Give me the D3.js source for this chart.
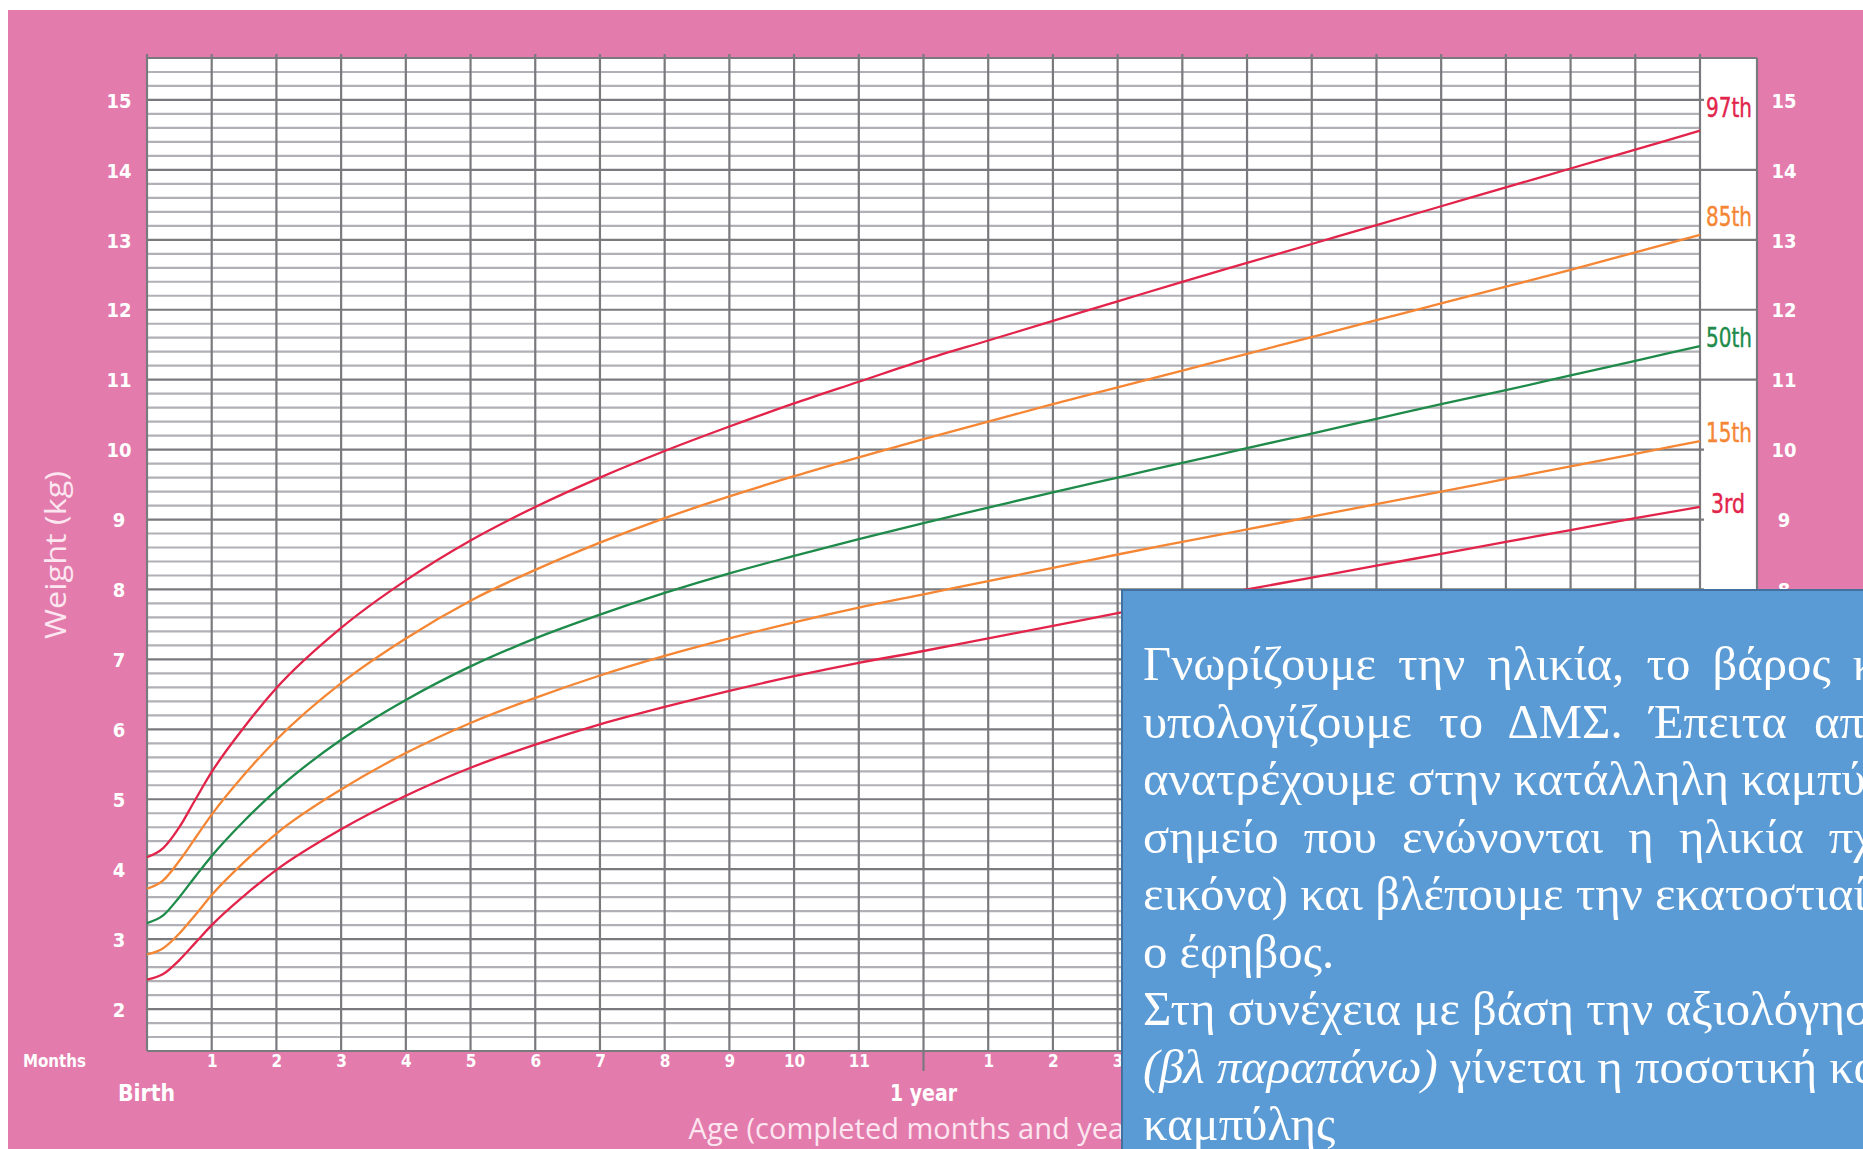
<!DOCTYPE html>
<html>
<head>
<meta charset="utf-8">
<script src="https://cdn.jsdelivr.net/npm/d3@7"></script>
<style>
  html, body { margin: 0; padding: 0; background: #ffffff; }
  svg { display: block; }
</style>
</head>
<body>
<svg id="chart" width="1863" height="1149"></svg>
<script>
// ---------------- DATA ----------------
const ageMonths = [0, 0.25, 0.5, 0.75, 1, 1.5, 2, 3, 4, 5, 6, 7, 8, 9, 10, 11, 12,
  13, 14, 15, 16, 17, 18, 19, 20, 21, 22, 23, 24];
const p3  = [2.42, 2.50, 2.70, 2.95, 3.20, 3.62, 3.99, 4.57, 5.05, 5.45, 5.78, 6.07, 6.32, 6.55, 6.76, 6.95, 7.12,
  7.30, 7.48, 7.66, 7.83, 8.00, 8.17, 8.34, 8.51, 8.68, 8.85, 9.02, 9.18];
const p15 = [2.78, 2.87, 3.08, 3.35, 3.63, 4.10, 4.51, 5.14, 5.66, 6.09, 6.45, 6.77, 7.05, 7.30, 7.53, 7.74, 7.93,
  8.12, 8.31, 8.50, 8.68, 8.86, 9.04, 9.22, 9.40, 9.58, 9.76, 9.94, 10.12];
const p50 = [3.23, 3.34, 3.60, 3.90, 4.19, 4.69, 5.13, 5.85, 6.42, 6.90, 7.30, 7.64, 7.95, 8.23, 8.48, 8.72, 8.95,
  9.17, 9.39, 9.60, 9.81, 10.02, 10.23, 10.44, 10.65, 10.85, 11.06, 11.27, 11.48];
const p85 = [3.72, 3.84, 4.12, 4.45, 4.78, 5.35, 5.85, 6.66, 7.30, 7.84, 8.28, 8.67, 9.02, 9.33, 9.62, 9.89, 10.15,
  10.40, 10.65, 10.89, 11.13, 11.37, 11.61, 11.85, 12.09, 12.33, 12.57, 12.82, 13.07];
const p97 = [4.17, 4.30, 4.60, 5.00, 5.39, 6.03, 6.59, 7.45, 8.13, 8.70, 9.18, 9.60, 9.98, 10.33, 10.66, 10.97, 11.28,
  11.56, 11.84, 12.12, 12.40, 12.67, 12.94, 13.21, 13.48, 13.75, 14.02, 14.29, 14.56];

const seriesNames = ["97th", "85th", "50th", "15th", "3rd"];
const seriesValues = [p97, p85, p50, p15, p3];

const weightTicks = [2, 3, 4, 5, 6, 7, 8, 9, 10, 11, 12, 13, 14, 15];
const monthTicks = [1, 2, 3, 4, 5, 6, 7, 8, 9, 10, 11, 13, 14, 15, 16, 17, 18, 19, 20, 21, 22, 23];
const monthTickLabels = ["1", "2", "3", "4", "5", "6", "7", "8", "9", "10", "11",
  "1", "2", "3", "4", "5", "6", "7", "8", "9", "10", "11"];
const yearTicks = [0, 12, 24];
const yearLabels = ["Birth", "1 year", "2 years"];

const boxLines = [
  "Γνωρίζουμε την ηλικία, το βάρος και",
  "υπολογίζουμε το ΔΜΣ. Έπειτα από",
  "ανατρέχουμε στην κατάλληλη καμπύλη",
  "σημείο που ενώνονται η ηλικία πχ",
  "εικόνα) και βλέπουμε την εκατοστιαία",
  "ο έφηβος.",
  "Στη συνέχεια με βάση την αξιολόγηση",
  "(βλ παραπάνω)| γίνεται η ποσοτική και",
  "καμπύλης"
];

// ---------------- STYLE / LAYOUT ----------------
const W = 1863, H = 1149;
const pink = "#E37BAD";
const lineColors = { "97th": "#E2244B", "85th": "#F58634", "50th": "#1E8B4A", "15th": "#F58634", "3rd": "#E2244B" };
const labelStyle = {
  "97th": { dy: -14, dx: 6, len: 46 },
  "85th": { dy: -9, dx: 6, len: 46 },
  "50th": { dy: 1, dx: 6, len: 46 },
  "15th": { dy: 1, dx: 6, len: 46 },
  "3rd":  { dy: 6, dx: 11, len: 34 }
};
const condensed = "'Liberation Sans Narrow', 'DejaVu Sans Condensed', 'Open Sans', sans-serif";

const svg = d3.select("#chart");

const x = d3.scaleLinear().domain([0, 24]).range([147, 1700]);
const y = d3.scaleLinear().domain([1.4, 15.6]).range([1051, 58]);
const colRight = 1757;

// background
svg.append("rect").attr("x", 0).attr("y", 0).attr("width", W).attr("height", H).attr("fill", "#fff");
svg.append("rect").attr("x", 8).attr("y", 10).attr("width", W - 8).attr("height", H - 10).attr("fill", pink);

// plot area
svg.append("rect").attr("x", x(0)).attr("y", y(15.6)).attr("width", colRight - x(0)).attr("height", y(1.4) - y(15.6))
  .attr("fill", "#fff");

// minor horizontal grid (0.2 kg)
const minorKg = d3.range(7, 79).map(i => i / 5).filter(v => Math.abs(v - Math.round(v)) > 1e-6);
svg.append("g").selectAll("line").data(minorKg).join("line")
  .attr("x1", x(0)).attr("x2", x(24))
  .attr("y1", d => y(d)).attr("y2", d => y(d))
  .attr("stroke", "#b0b0b6").attr("stroke-width", 2.2);

// major horizontal grid
const fullRow = new Set([11, 12, 13, 14]);
svg.append("g").selectAll("line").data(weightTicks).join("line")
  .attr("x1", x(0)).attr("x2", d => fullRow.has(d) ? colRight : x(24) + 4)
  .attr("y1", d => y(d)).attr("y2", d => y(d))
  .attr("stroke", "#7a7a7e").attr("stroke-width", 2.2);

// vertical grid
svg.append("g").selectAll("line").data(d3.range(0, 25)).join("line")
  .attr("x1", d => x(d)).attr("x2", d => x(d))
  .attr("y1", y(15.6) - 4).attr("y2", d => d === 12 ? y(1.4) + 20 : y(1.4))
  .attr("stroke", "#7a7a7e").attr("stroke-width", 2.2);

// borders
svg.append("line").attr("x1", x(0)).attr("x2", colRight).attr("y1", y(15.6)).attr("y2", y(15.6))
  .attr("stroke", "#7a7a7e").attr("stroke-width", 2.2);
svg.append("line").attr("x1", x(0)).attr("x2", colRight).attr("y1", y(1.4)).attr("y2", y(1.4))
  .attr("stroke", "#7a7a7e").attr("stroke-width", 2.2);
svg.append("line").attr("x1", colRight).attr("x2", colRight).attr("y1", y(15.6)).attr("y2", y(1.4))
  .attr("stroke", "#7a7a7e").attr("stroke-width", 2.2);

// curves
const line = d3.line().x((d, i) => x(ageMonths[i])).y(d => y(d)).curve(d3.curveMonotoneX);
svg.append("g").selectAll("path").data(seriesValues).join("path")
  .attr("d", d => line(d))
  .attr("fill", "none")
  .attr("stroke", (d, i) => lineColors[seriesNames[i]])
  .attr("stroke-width", 2.3);

// percentile labels
svg.append("g").selectAll("text").data(seriesNames).join("text")
  .attr("x", (d, i) => x(24) + labelStyle[d].dx)
  .attr("y", (d, i) => y(seriesValues[i][seriesValues[i].length - 1]) + labelStyle[d].dy)
  .attr("fill", d => lineColors[d])
  .attr("font-family", condensed)
  .attr("font-size", 27)
  .attr("stroke", d => lineColors[d]).attr("stroke-width", 0.4)
  .attr("textLength", d => labelStyle[d].len)
  .attr("lengthAdjust", "spacingAndGlyphs")
  .text(d => d);

// y axes (left and right)
const yAxisL = svg.append("g").attr("transform", `translate(${x(0)},0)`)
  .call(d3.axisLeft(y).tickValues(weightTicks).tickSize(0).tickFormat(d3.format("d")));
const yAxisR = svg.append("g").attr("transform", `translate(${colRight},0)`)
  .call(d3.axisRight(y).tickValues(weightTicks).tickSize(0).tickFormat(d3.format("d")));
[yAxisL, yAxisR].forEach(g => {
  g.select(".domain").remove();
  g.selectAll("text")
    .attr("fill", "#fff")
    .attr("font-family", condensed)
    .attr("font-weight", "bold")
    .attr("font-size", 20)
    .attr("text-anchor", "middle")
    .attr("dy", "0.36em");
});
yAxisL.selectAll("text").attr("x", -28);
yAxisR.selectAll("text").attr("x", 27);

// month axis
const xAxis = svg.append("g").attr("transform", `translate(0,${y(1.4)})`)
  .call(d3.axisBottom(x).tickValues(monthTicks).tickSize(0)
    .tickFormat((d, i) => monthTickLabels[i]));
xAxis.select(".domain").remove();
xAxis.selectAll("text")
  .attr("fill", "#fff")
  .attr("font-family", condensed)
  .attr("font-weight", "bold")
  .attr("font-size", 17)
  .attr("dy", 0).attr("y", 16);

// year labels
svg.append("g").selectAll("text").data(yearTicks).join("text")
  .attr("x", d => d === 0 ? 118 : x(d))
  .attr("y", 1101)
  .attr("text-anchor", d => d === 0 ? "start" : "middle")
  .attr("fill", "#fff")
  .attr("font-family", condensed)
  .attr("font-weight", "bold")
  .attr("font-size", 23)
  .attr("textLength", d => d === 0 ? 57 : 67)
  .attr("lengthAdjust", "spacingAndGlyphs")
  .text((d, i) => yearLabels[i]);

svg.append("text").attr("x", 23).attr("y", 1067)
  .attr("fill", "#fff").attr("font-family", condensed).attr("font-weight", "bold")
  .attr("font-size", 17).attr("textLength", 63).attr("lengthAdjust", "spacingAndGlyphs")
  .text("Months");

// axis titles
svg.append("text")
  .attr("transform", `translate(66,555) rotate(-90)`)
  .attr("text-anchor", "middle")
  .attr("fill", "#FCE6F0")
  .attr("font-family", "'Open Sans', sans-serif")
  .attr("font-size", 29)
  .attr("textLength", 168).attr("lengthAdjust", "spacingAndGlyphs")
  .text("Weight (kg)");

svg.append("text")
  .attr("x", x(12)).attr("y", 1139)
  .attr("text-anchor", "middle")
  .attr("fill", "#FCE6F0")
  .attr("font-family", "'Open Sans', sans-serif")
  .attr("font-size", 29)
  .text("Age (completed months and years)");

// ---------------- BLUE TEXT BOX ----------------
svg.append("rect").attr("x", 1122).attr("y", 590).attr("width", 800).attr("height", 620)
  .attr("fill", "#5B9BD5").attr("stroke", "#41719C").attr("stroke-width", 2);

const wordSpacing = [10, 15, 0, 13, 0, 0, 0, 0, 0];
const tb = svg.append("g")
  .attr("font-family", "'Liberation Serif', 'Times New Roman', serif")
  .attr("font-size", 48.7)
  .attr("fill", "#fff");
boxLines.forEach((ln, i) => {
  const t = tb.append("text").attr("x", 1143).attr("y", 680 + i * 57.5)
    .attr("word-spacing", wordSpacing[i]);
  const parts = ln.split("|");
  if (parts.length > 1) {
    t.append("tspan").attr("font-style", "italic").text(parts[0]);
    t.append("tspan").text(parts[1]);
  } else {
    t.text(ln);
  }
});
</script>
</body>
</html>
